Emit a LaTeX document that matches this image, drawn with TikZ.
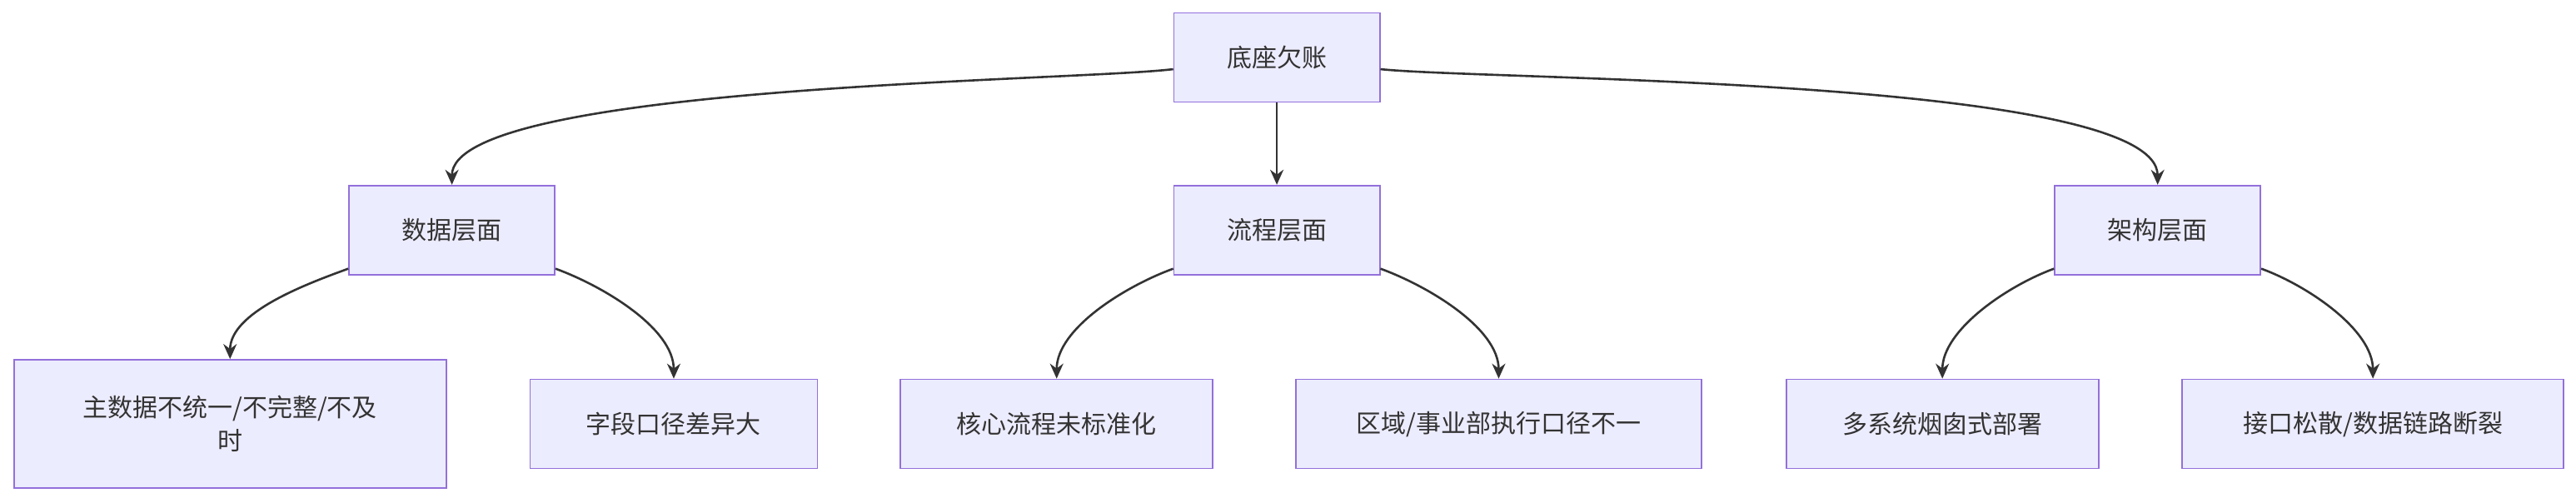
\documentclass[tikz,border=0pt]{standalone}
\usepackage{fontspec}
\setmainfont{Noto Sans CJK SC}
\usetikzlibrary{arrows.meta}
\begin{document}
\begin{tikzpicture}[x=1.973pt,y=1.973pt,
  box/.style={draw=violet!60!blue!70!white, draw={rgb,255:red,147;green,112;blue,219}, fill={rgb,255:red,236;green,236;blue,255}, line width=1.8pt, minimum height=107pt, align=center, font=\fontsize{30}{40}\selectfont, text={rgb,255:red,51;green,51;blue,51}},
  edge/.style={draw={rgb,255:red,51;green,51;blue,51}, line width=2.6pt, -{Stealth[length=18pt,width=16pt]}}]
\useasboundingbox (0,0) rectangle (1567.6,-306.1);
\node[box,minimum width=247pt] (root) at (777,-35) {底座欠账};
\node[box,minimum width=247pt] (d) at (275,-140) {数据层面};
\node[box,minimum width=247pt] (p) at (777,-140) {流程层面};
\node[box,minimum width=247pt] (a) at (1313,-140) {架构层面};
\node[box,minimum width=519pt,minimum height=154pt] (d1) at (140,-258) {主数据不统一/不完整/不及\\时};
\node[box,minimum width=345pt] (d2) at (410,-258) {字段口径差异大};
\node[box,minimum width=375pt] (p1) at (643,-258) {核心流程未标准化};
\node[box,minimum width=487pt] (p2) at (912,-258) {区域/事业部执行口径不一};
\node[box,minimum width=375pt] (a1) at (1182,-258) {多系统烟囱式部署};
\node[box,minimum width=458pt] (a2) at (1444,-258) {接口松散/数据链路断裂};
\draw[edge] ([yshift=-14pt]root.west) to[out=187,in=90,looseness=0.35] (d.north);
\draw[edge] (root.south) -- (p.north);
\draw[edge] ([yshift=-14pt]root.east) to[out=-6,in=90,looseness=0.35] (a.north);
\draw[edge] ([yshift=8pt]d.south west) to[out=200,in=90,looseness=0.8] (d1.north);
\draw[edge] ([yshift=8pt]d.south east) to[out=-20,in=90,looseness=0.8] (d2.north);
\draw[edge] ([yshift=8pt]p.south west) to[out=200,in=90,looseness=0.8] (p1.north);
\draw[edge] ([yshift=8pt]p.south east) to[out=-20,in=90,looseness=0.8] (p2.north);
\draw[edge] ([yshift=8pt]a.south west) to[out=200,in=90,looseness=0.8] (a1.north);
\draw[edge] ([yshift=8pt]a.south east) to[out=-20,in=90,looseness=0.8] (a2.north);
\end{tikzpicture}
\end{document}
